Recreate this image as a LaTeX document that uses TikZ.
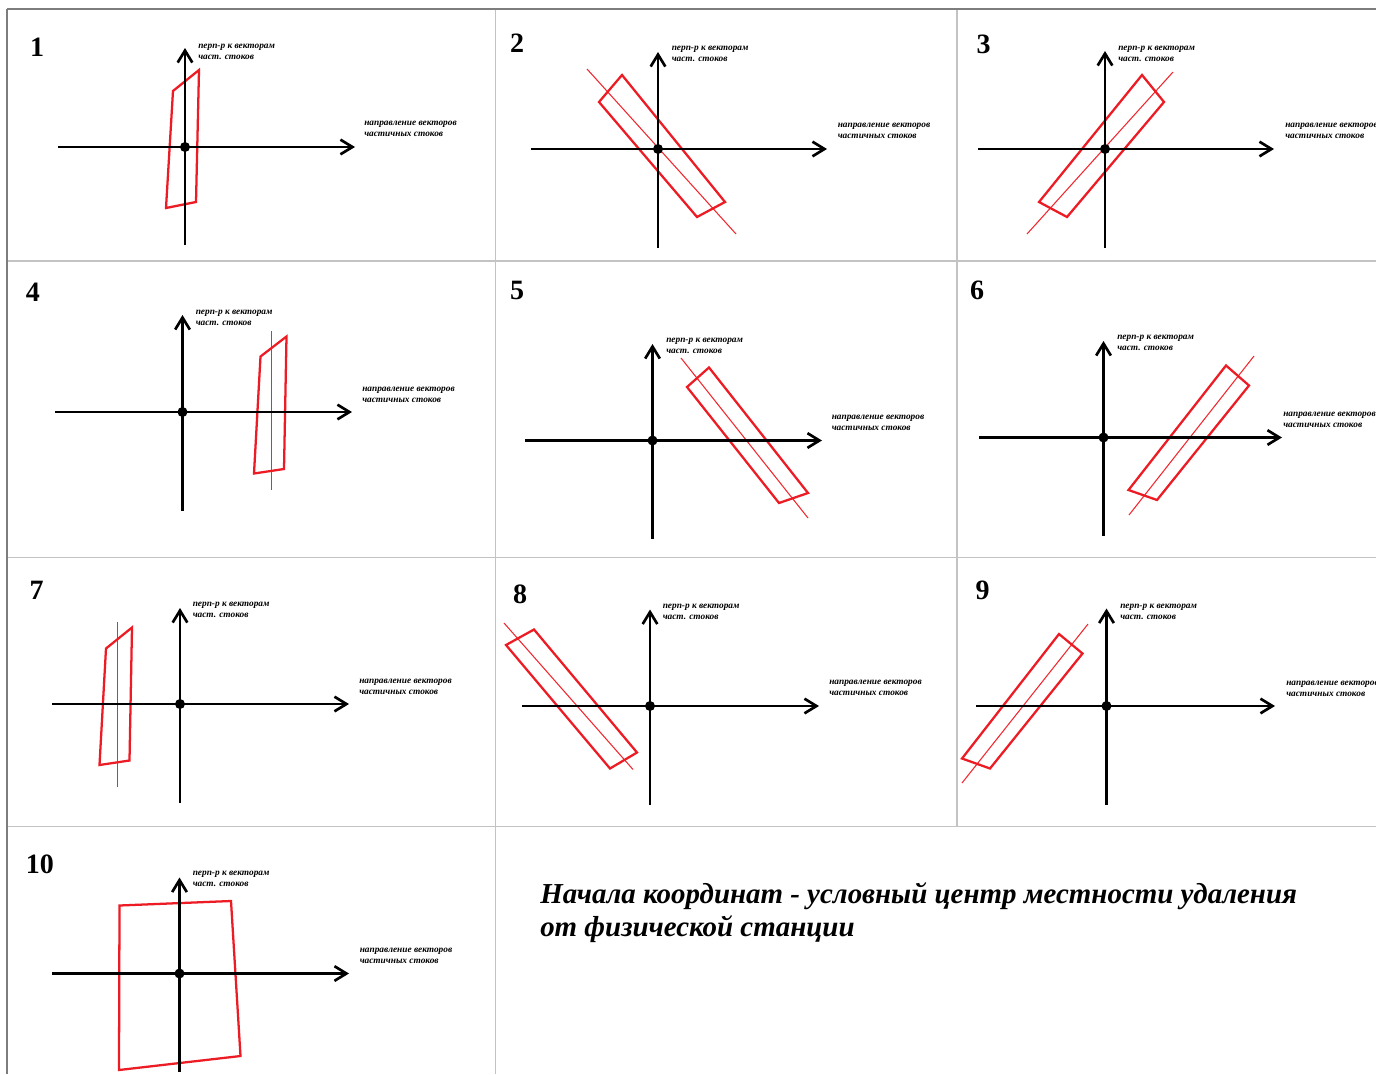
\documentclass[tikz,border=0pt]{standalone}
\usepackage{fontspec}
\setmainfont{Liberation Serif}
\usetikzlibrary{arrows.meta}
\definecolor{pred}{RGB}{237,28,36}
\definecolor{pthin}{RGB}{240,40,48}
\definecolor{gframe}{RGB}{125,125,125}
\definecolor{ggrid}{RGB}{195,195,195}
\begin{document}
\begin{tikzpicture}[x=0.75pt,y=-0.75pt,
  axis/.style={line width=2pt,-{Straight Barb[length=9pt,width=11pt]}},
  dot/.style={circle,fill=black,inner sep=0pt,minimum size=7.5pt},
  zone/.style={draw=pred,line width=1.7pt},
  axisline/.style={draw=pthin,line width=0.8pt},
  frame/.style={draw=gframe,line width=1.5pt},
  grid/.style={draw=ggrid,line width=1.1pt},
  num/.style={inner sep=0pt,font=\fontsize{21pt}{21pt}\selectfont\bfseries},
  lbl/.style={anchor=west,align=left,inner sep=0pt,font=\fontsize{7pt}{8.25pt}\selectfont\bfseries\itshape},
  note/.style={anchor=west,align=left,inner sep=0pt,font=\fontsize{21.7pt}{24.75pt}\selectfont\bfseries\itshape}
]
\useasboundingbox (0,0) rectangle (1376,1074);
\fill[white] (0,0) rectangle (1376,1074);
% grid
\draw[grid] (7,261) -- (1376,261);
\draw[grid] (7,557.5) -- (1376,557.5);
\draw[grid] (7,826.5) -- (1376,826.5);
\draw[grid] (495.5,9) -- (495.5,1074);
\draw[grid] (957,9) -- (957,826.5);
\draw[frame] (7,9) -- (1376,9);
\draw[frame] (7,9) -- (7,1074);

% ---------- panel 1
\node[num] (n1) at (37,47) {1};
\draw[zone] (173,91) -- (199,70) -- (196,202) -- (166,208) -- cycle;
\coordinate (xl1) at (58,147); \coordinate (xr1) at (355,147);
\coordinate (yb1) at (185,245); \coordinate (yt1) at (185,48);
\draw[axis] (xl1) -- (xr1);
\draw[axis] (yb1) -- (yt1);
\node[dot] (o1) at (185,147) {};
\node[lbl] (t1) at (198,51.5) {перп-р к векторам\\част. стоков};
\node[lbl] (r1) at (364,128.5) {направление векторов\\частичных стоков};

% ---------- panel 2
\node[num] (n2) at (517,43) {2};
\draw[axisline] (587,69) -- (736,234);
\draw[zone] (622,75) -- (725,202) -- (697,217) -- (599,102) -- cycle;
\coordinate (xl2) at (531,149); \coordinate (xr2) at (827,149);
\coordinate (yb2) at (658,248); \coordinate (yt2) at (658,52);
\draw[axis] (xl2) -- (xr2);
\draw[axis] (yb2) -- (yt2);
\node[dot] (o2) at (658,149) {};
\node[lbl] (t2) at (671.5,54) {перп-р к векторам\\част. стоков};
\node[lbl] (r2) at (837.5,131) {направление векторов\\частичных стоков};

% ---------- panel 3
\node[num] (n3) at (983.5,44.5) {3};
\draw[axisline] (1027,234) -- (1173,72);
\draw[zone] (1142,75) -- (1164,102) -- (1067,217) -- (1039,202) -- cycle;
\coordinate (xl3) at (978,149); \coordinate (xr3) at (1274,149);
\coordinate (yb3) at (1105,248); \coordinate (yt3) at (1105,51);
\draw[axis] (xl3) -- (xr3);
\draw[axis] (yb3) -- (yt3);
\node[dot] (o3) at (1105,149) {};
\node[lbl] (t3) at (1118,54) {перп-р к векторам\\част. стоков};
\node[lbl] (r3) at (1285,131) {направление векторов\\частичных стоков};

% ---------- panel 4
\node[num] (n4) at (33,292) {4};
\draw[axisline] (271.5,331) -- (271.5,490);
\draw[zone] (260.5,356.5) -- (286.5,336.5) -- (284,469) -- (254,473.5) -- cycle;
\coordinate (xl4) at (55,412); \coordinate (xr4) at (352,412);
\coordinate (yb4) at (182.5,511); \coordinate (yt4) at (182.5,315);
\draw[axis] (xl4) -- (xr4);
\draw[axis] (yb4) -- (yt4);
\node[dot] (o4) at (182.5,412) {};
\node[lbl] (t4) at (195.5,318) {перп-р к векторам\\част. стоков};
\node[lbl] (r4) at (362,394.5) {направление векторов\\частичных стоков};

% ---------- panel 5
\node[num] (n5) at (517,290) {5};
\draw[axisline] (681,358) -- (808,518);
\draw[zone] (709,367.5) -- (808,493) -- (779,503) -- (687,387) -- cycle;
\coordinate (xl5) at (525,440.5); \coordinate (xr5) at (822,440.5);
\coordinate (yb5) at (652.5,538.5); \coordinate (yt5) at (652.5,344);
\draw[axis] (xl5) -- (xr5);
\draw[axis] (yb5) -- (yt5);
\node[dot] (o5) at (652.5,440.5) {};
\node[lbl] (t5) at (666,345.5) {перп-р к векторам\\част. стоков};
\node[lbl] (r5) at (831.5,422.5) {направление векторов\\частичных стоков};

% ---------- panel 6
\node[num] (n6) at (977,290) {6};
\draw[axisline] (1129,515) -- (1254,356);
\draw[zone] (1226,365.5) -- (1249,385.5) -- (1157,500) -- (1128.5,490) -- cycle;
\coordinate (xl6) at (979,437.5); \coordinate (xr6) at (1282,437.5);
\coordinate (yb6) at (1103.5,536); \coordinate (yt6) at (1103.5,341);
\draw[axis] (xl6) -- (xr6);
\draw[axis] (yb6) -- (yt6);
\node[dot] (o6) at (1103.5,437.5) {};
\node[lbl] (t6) at (1117,343) {перп-р к векторам\\част. стоков};
\node[lbl] (r6) at (1283,420) {направление векторов\\частичных стоков};

% ---------- panel 7
\node[num] (n7) at (36.5,590) {7};
\draw[axisline] (117.5,622) -- (117.5,787);
\draw[zone] (106,648.5) -- (132,627.5) -- (129.5,760.5) -- (99.5,765) -- cycle;
\coordinate (xl7) at (52,704); \coordinate (xr7) at (349,704);
\coordinate (yb7) at (180,802.5); \coordinate (yt7) at (180,608);
\draw[axis] (xl7) -- (xr7);
\draw[axis] (yb7) -- (yt7);
\node[dot] (o7) at (180,704) {};
\node[lbl] (t7) at (192.5,609.5) {перп-р к векторам\\част. стоков};
\node[lbl] (r7) at (359,686.5) {направление векторов\\частичных стоков};

% ---------- panel 8
\node[num] (n8) at (520,594) {8};
\draw[axisline] (504,623) -- (633,769.5);
\draw[zone] (534,629.5) -- (637,752.5) -- (610,768.5) -- (506,645) -- cycle;
\coordinate (xl8) at (522,706); \coordinate (xr8) at (819,706);
\coordinate (yb8) at (650,804.5); \coordinate (yt8) at (650,609.5);
\draw[axis] (xl8) -- (xr8);
\draw[axis] (yb8) -- (yt8);
\node[dot] (o8) at (650,706) {};
\node[lbl] (t8) at (662.5,612) {перп-р к векторам\\част. стоков};
\node[lbl] (r8) at (829,688) {направление векторов\\частичных стоков};

% ---------- panel 9
\node[num] (n9) at (982.5,590) {9};
\draw[axisline] (962,783) -- (1088,624);
\draw[zone] (1059,634) -- (1082.5,653.5) -- (990,768.5) -- (962,758.5) -- cycle;
\coordinate (xl9) at (976,706); \coordinate (xr9) at (1275,706);
\coordinate (yb9) at (1106.5,804.5); \coordinate (yt9) at (1106.5,608.5);
\draw[axis] (xl9) -- (xr9);
\draw[axis] (yb9) -- (yt9);
\node[dot] (o9) at (1106.5,706) {};
\node[lbl] (t9) at (1120,612) {перп-р к векторам\\част. стоков};
\node[lbl] (r9) at (1286,688.5) {направление векторов\\частичных стоков};

% ---------- panel 10
\node[num] (n10) at (40,864) {10};
\draw[zone] (119.5,905.5) -- (231,901) -- (240.5,1056) -- (119,1070) -- cycle;
\coordinate (xl10) at (52,973.5); \coordinate (xr10) at (349,973.5);
\coordinate (yb10) at (179.5,1072); \coordinate (yt10) at (179.5,877.5);
\draw[axis] (xl10) -- (xr10);
\draw[axis] (yb10) -- (yt10);
\node[dot] (o10) at (179.5,973.5) {};
\node[lbl] (t10) at (192.5,879) {перп-р к векторам\\част. стоков};
\node[lbl] (r10) at (359.5,955.5) {направление векторов\\частичных стоков};

% ---------- note
\node[note] (note) at (540,912.5) {Начала координат - условный центр местности удаления\\от физической станции};
\end{tikzpicture}
\end{document}
